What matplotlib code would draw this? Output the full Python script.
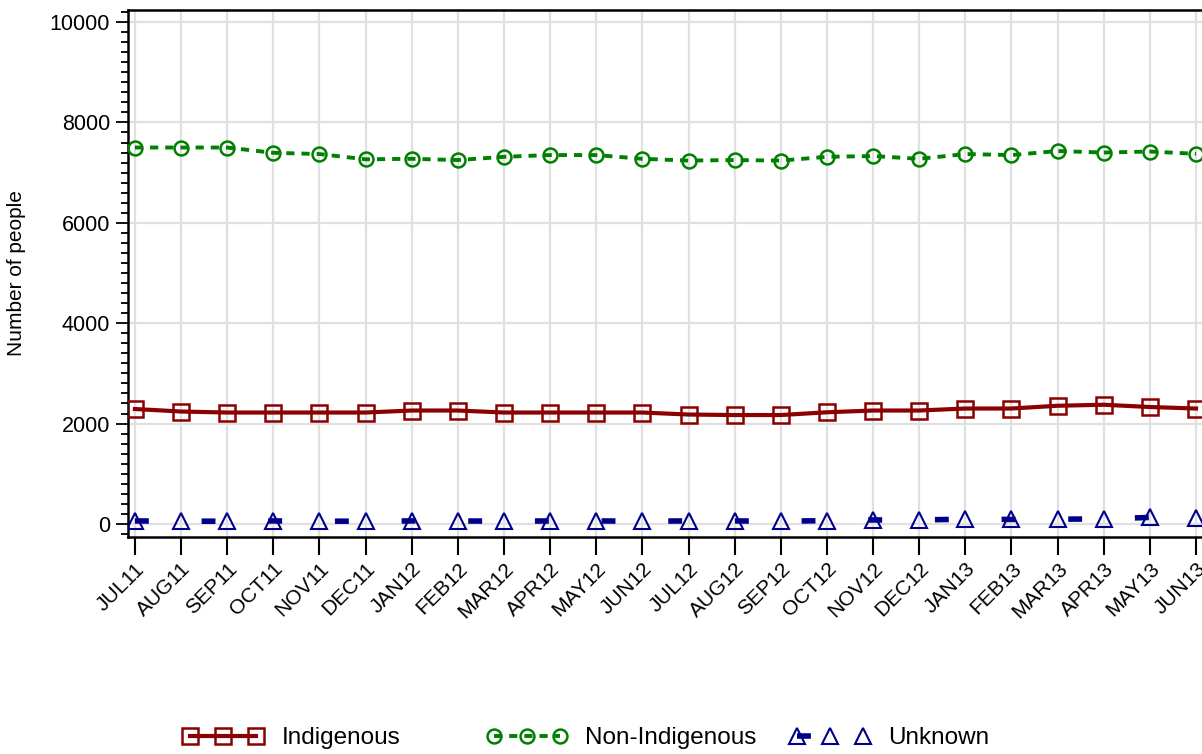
import matplotlib
matplotlib.use("Agg")
import matplotlib.pyplot as plt
from matplotlib.ticker import MultipleLocator

months = ["JUL11", "AUG11", "SEP11", "OCT11", "NOV11", "DEC11", "JAN12", "FEB12",
          "MAR12", "APR12", "MAY12", "JUN12", "JUL12", "AUG12", "SEP12", "OCT12",
          "NOV12", "DEC12", "JAN13", "FEB13", "MAR13", "APR13", "MAY13", "JUN13"]

indigenous = [2290, 2240, 2220, 2220, 2220, 2220, 2260, 2260, 2220, 2220, 2220, 2220,
              2180, 2170, 2170, 2225, 2260, 2260, 2300, 2300, 2355, 2375, 2330, 2300]

non_indigenous = [7500, 7500, 7500, 7395, 7370, 7265, 7275, 7250, 7315, 7350, 7350, 7275,
                  7240, 7250, 7240, 7315, 7330, 7275, 7370, 7350, 7430, 7400, 7420, 7375]

unknown = [60, 55, 55, 60, 55, 55, 60, 60, 55, 60, 60, 55,
           60, 60, 55, 65, 80, 80, 95, 90, 95, 100, 130, 120]

RED = "#8b0000"
GREEN = "#008000"
BLUE = "#00008b"

plt.rcParams['font.family'] = ['Liberation Sans', 'DejaVu Sans']

fig = plt.figure(figsize=(12.02, 7.54), dpi=100)
ax = fig.add_axes([128 / 1202, 1 - 537 / 754, 1 - 128 / 1202, (537 - 10) / 754])

x = list(range(len(months)))

ax.plot(x, indigenous, color=RED, lw=3, marker='s', ms=11, mfc='none', mew=1.8,
        label='Indigenous', zorder=4)
ax.plot(x, non_indigenous, color=GREEN, lw=2.8, ls=(0, (2.1, 1.8)), marker='o', ms=10,
        mfc='none', mew=1.8, label='Non-Indigenous', zorder=4)
ax.plot(x, unknown, color=BLUE, lw=4, ls=(0, (2.5, 9.5)), marker='^', ms=11, mfc='none',
        mew=1.5, label='Unknown', zorder=4)

ax.set_xlim(-0.15, 23.13)
ax.set_ylim(-260, 10240)

ax.set_xticks(x)
ax.set_xticklabels(months, rotation=45, ha='right', va='top', rotation_mode='anchor',
                   fontsize=15)
ax.yaxis.set_major_locator(MultipleLocator(2000))
ax.yaxis.set_minor_locator(MultipleLocator(200))
ax.tick_params(axis='y', which='major', length=9, width=1.3, labelsize=15.5, pad=4)
ax.tick_params(axis='y', which='minor', length=5, width=1.3)
ax.tick_params(axis='x', which='major', length=13, width=1.5, pad=3)

ax.grid(True, which='major', color='#e0e0e0', lw=1.6, zorder=0)
ax.set_axisbelow(True)

for side in ['left', 'bottom', 'top']:
    ax.spines[side].set_linewidth(1.8)
ax.spines['right'].set_visible(False)

ax.set_ylabel("Number of people", fontsize=15, labelpad=17)

# SAS-style legend: fixed-width columns
handles, labels = ax.get_legend_handles_labels()
col_left = [183, 487, 790]
for h, lab, xl in zip(handles, labels, col_left):
    fig.legend([h], [lab], loc='center left', bbox_to_anchor=(xl / 1202, 1 - 738 / 754),
               frameon=False, fontsize=17.5, numpoints=3, handlelength=3.3,
               handletextpad=0.75, borderpad=0, borderaxespad=0)

fig.savefig("out.png", dpi=100)
